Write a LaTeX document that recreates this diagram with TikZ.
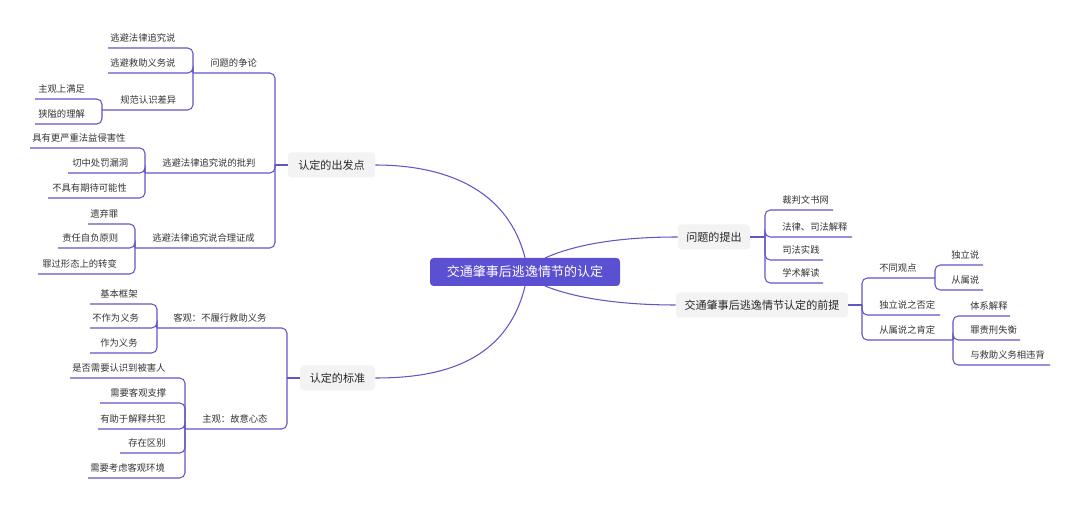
\documentclass[tikz,border=0pt]{standalone}
\usepackage{fontspec}
\setmainfont{Noto Sans CJK SC}
\usetikzlibrary{calc}
\definecolor{branchc}{RGB}{96,86,196}
\definecolor{rootc}{RGB}{91,80,210}
\definecolor{boxc}{RGB}{243,243,243}
% one branch: name, far end x, near end x, y, text x, text
\newcommand{\mnode}[6]{%
  \coordinate (#1-out) at (#2,#4);
  \coordinate (#1-in) at (#3,#4);
  \node[lbl] (#1) at (#5,#4-10) {#6};}
\newcommand{\link}[2]{\draw[branch] (#1-out) -- (#1-out |- #2-out) -- (#2-out);}

\begin{document}
\begin{tikzpicture}[
    x=0.02cm, y=-0.02cm,
    branch/.style={draw=branchc, line width=0.6pt, rounded corners=3pt},
    lbl/.style={anchor=west, inner sep=0pt, text=black!80, font=\fontsize{5.3}{6}\selectfont},
    topic/.style={fill=boxc, rounded corners=2pt, inner sep=0pt, text=black!85,
                  font=\fontsize{6.3}{7}\selectfont, minimum height=25*0.02cm},
    root/.style={fill=rootc, rounded corners=2pt, text=white, inner sep=0pt,
                 font=\fontsize{7.4}{8}\selectfont, minimum width=190*0.02cm, minimum height=28*0.02cm}
    ]
    \useasboundingbox (0,0) rectangle (1080,510);

    %Root and topics
    \node[root] (root) at (525,272) {交通肇事后逃逸情节的认定};
    \node[topic, minimum width=87*0.02cm] (cfd) at (331.5,165) {认定的出发点};
    \node[topic, minimum width=75*0.02cm] (bz) at (337.5,378) {认定的标准};
    \node[topic, minimum width=72*0.02cm] (tc) at (714,237) {问题的提出};
    \node[topic, minimum width=172*0.02cm] (qt) at (762,305) {交通肇事后逃逸情节认定的前提};

    \draw[branch] ($(root.north)$) .. controls (505,180) and (430,165) .. (cfd.east);
    \draw[branch] ($(root.south)$) .. controls (505,368) and (430,378) .. (bz.east);
    \draw[branch] (545,258) .. controls (585,240) and (640,237) .. (tc.west);
    \draw[branch] (545,286) .. controls (585,302) and (640,305) .. (qt.west);

    %Left upper
    \coordinate (cfd-out) at (275,165);
    \draw[branch] (cfd.west) -- (cfd-out);
    \mnode{zl}{193}{275}{73}{210}{问题的争论}
    \mnode{zl1}{108}{193}{48}{110}{逃避法律追究说}
    \mnode{zl2}{108}{193}{73}{110}{逃避救助义务说}
    \mnode{zl3}{102}{193}{110}{120}{规范认识差异}
    \mnode{zl31}{35}{102}{99}{38}{主观上满足}
    \mnode{zl32}{35}{102}{124}{38}{狭隘的理解}
    \mnode{pp}{145}{275}{173}{162}{逃避法律追究说的批判}
    \mnode{pp1}{30}{145}{148}{32}{具有更严重法益侵害性}
    \mnode{pp2}{68}{145}{173}{72}{切中处罚漏洞}
    \mnode{pp3}{48}{145}{198}{52}{不具有期待可能性}
    \mnode{zc}{135}{275}{248}{152}{逃避法律追究说合理证成}
    \mnode{zc1}{88}{135}{224}{90}{遗弃罪}
    \mnode{zc2}{58}{135}{248}{62}{责任自负原则}
    \mnode{zc3}{38}{135}{274}{42}{罪过形态上的转变}
    \link{cfd}{zl} \link{cfd}{pp} \link{cfd}{zc}
    \link{zl}{zl1} \link{zl}{zl2} \link{zl}{zl3}
    \link{zl3}{zl31} \link{zl3}{zl32}
    \link{pp}{pp1} \link{pp}{pp2} \link{pp}{pp3}
    \link{zc}{zc1} \link{zc}{zc2} \link{zc}{zc3}

    %Left lower
    \coordinate (bz-out) at (287,378);
    \draw[branch] (bz.west) -- (bz-out);
    \mnode{kg}{157}{287}{328}{173}{客观：不履行救助义务}
    \mnode{kg1}{90}{157}{304}{100}{基本框架}
    \mnode{kg2}{90}{157}{328}{92}{不作为义务}
    \mnode{kg3}{90}{157}{353}{100}{作为义务}
    \mnode{zg}{185}{287}{429}{202}{主观：故意心态}
    \mnode{zg1}{70}{185}{378}{72}{是否需要认识到被害人}
    \mnode{zg2}{100}{185}{403}{110}{需要客观支撑}
    \mnode{zg3}{98}{185}{429}{100}{有助于解释共犯}
    \mnode{zg4}{120}{185}{453}{128}{存在区别}
    \mnode{zg5}{88}{185}{478}{90}{需要考虑客观环境}
    \link{bz}{kg} \link{bz}{zg}
    \link{kg}{kg1} \link{kg}{kg2} \link{kg}{kg3}
    \link{zg}{zg1} \link{zg}{zg2} \link{zg}{zg3} \link{zg}{zg4} \link{zg}{zg5}

    %Right upper
    \coordinate (tc-out) at (765,237);
    \draw[branch] (tc.east) -- (tc-out);
    \mnode{tc1}{833}{765}{210}{782}{裁判文书网}
    \mnode{tc2}{852}{765}{237}{782}{法律、司法解释}
    \mnode{tc3}{823}{765}{260}{782}{司法实践}
    \mnode{tc4}{823}{765}{283}{782}{学术解读}
    \link{tc}{tc1} \link{tc}{tc2} \link{tc}{tc3} \link{tc}{tc4}

    %Right lower
    \coordinate (qt-out) at (862,305);
    \draw[branch] (qt.east) -- (qt-out);
    \mnode{bt}{935}{862}{278}{879}{不同观点}
    \mnode{bt1}{983}{935}{265}{951}{独立说}
    \mnode{bt2}{983}{935}{290}{951}{从属说}
    \mnode{fd}{940}{862}{315}{879}{独立说之否定}
    \mnode{kd}{953}{862}{340}{879}{从属说之肯定}
    \mnode{kd1}{1010}{953}{316}{970}{体系解释}
    \mnode{kd2}{1020}{953}{340}{970}{罪责刑失衡}
    \mnode{kd3}{1050}{953}{365}{970}{与救助义务相违背}
    \link{qt}{bt} \link{qt}{fd} \link{qt}{kd}
    \link{bt}{bt1} \link{bt}{bt2}
    \link{kd}{kd1} \link{kd}{kd2} \link{kd}{kd3}
\end{tikzpicture}
\end{document}
